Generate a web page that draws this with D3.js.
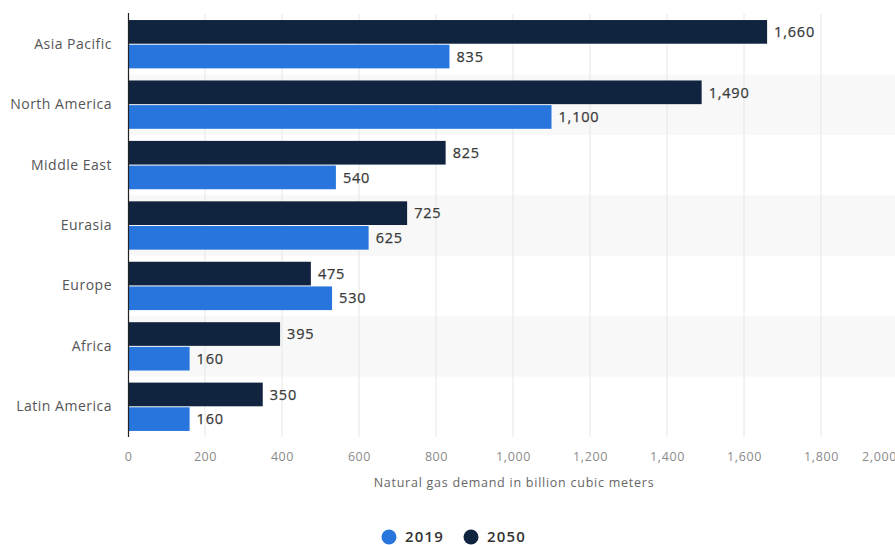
<!DOCTYPE html>
<html>
<head>
<meta charset="utf-8">
<script src="https://cdn.jsdelivr.net/npm/d3@7"></script>
<style>
  html, body { margin: 0; padding: 0; background: #fff; }
  svg { display: block; font-family: "Open Sans", "DejaVu Sans", sans-serif; }
</style>
</head>
<body>
<svg id="chart" width="895" height="545"></svg>
<script>
// Natural gas demand by region, 2019 vs 2050 (billion cubic meters)
const regions = ["Asia Pacific", "North America", "Middle East", "Eurasia", "Europe", "Africa", "Latin America"];
const years = ["2050", "2019"];
const values2050 = [1660, 1490, 825, 725, 475, 395, 350];
const values2019 = [835, 1100, 540, 625, 530, 160, 160];
const xTicks = [0, 200, 400, 600, 800, 1000, 1200, 1400, 1600, 1800, 2000];
const legendYears = ["2019", "2050"];
const colors = { "2019": "#2876dd", "2050": "#10243f" };
const axisTitle = "Natural gas demand in billion cubic meters";

const svg = d3.select("#chart");
const plotLeft = 128, plotRight = 898, plotTop = 14, plotBottom = 437;

const x = d3.scaleLinear().domain([0, 2000]).range([plotLeft, plotRight]);
const y = d3.scaleBand().domain(regions).range([plotTop, plotBottom]).paddingInner(0.2).paddingOuter(0.1);
const ySub = d3.scaleBand().domain(years).range([0, y.bandwidth()]).paddingInner(0.04);

const rows = regions.map((r, i) => ({ region: r, "2050": values2050[i], "2019": values2019[i] }));

// alternating row shading
const step = y.step();
svg.append("g").selectAll("rect")
  .data(regions.filter((d, i) => i % 2 === 1))
  .join("rect")
  .attr("x", plotLeft)
  .attr("y", d => y(d) - step * 0.1)
  .attr("width", 895 - plotLeft)
  .attr("height", step)
  .attr("fill", "#f8f8f8");

// vertical grid lines
svg.append("g").selectAll("line")
  .data(xTicks.filter(t => t > 0))
  .join("line")
  .attr("x1", d => x(d)).attr("x2", d => x(d))
  .attr("y1", plotTop).attr("y2", plotBottom)
  .attr("stroke", "#e6e6e6")
  .attr("stroke-width", 1);

// bars
const groups = svg.append("g").selectAll("g")
  .data(rows)
  .join("g")
  .attr("transform", d => `translate(0,${y(d.region)})`);

groups.selectAll("rect")
  .data(d => years.map(k => ({ key: k, value: d[k] })))
  .join("rect")
  .attr("x", x(0))
  .attr("y", d => ySub(d.key))
  .attr("width", d => x(d.value) - x(0))
  .attr("height", ySub.bandwidth())
  .attr("fill", d => colors[d.key]);

// value labels
const fmt = d3.format(",");
groups.selectAll("text")
  .data(d => years.map(k => ({ key: k, value: d[k] })))
  .join("text")
  .attr("x", d => x(d.value) + 7)
  .attr("y", d => ySub(d.key) + ySub.bandwidth() / 2)
  .attr("dy", "0.36em")
  .attr("font-size", 14.5)
  .attr("font-weight", 400)
  .attr("letter-spacing", 0.8)
  .attr("stroke", "#3a3a3a")
  .attr("stroke-width", 0.25)
  .attr("fill", "#3a3a3a")
  .text(d => fmt(d.value));

// category axis
const yAxis = svg.append("g")
  .attr("transform", `translate(${plotLeft},0)`)
  .call(d3.axisLeft(y).tickSize(0).tickPadding(16));
yAxis.select(".domain").remove();
yAxis.selectAll("text")
  .attr("font-size", 14)
  .attr("font-family", "Open Sans, DejaVu Sans, sans-serif")
  .attr("letter-spacing", 0.5)
  .attr("fill", "#555");

svg.append("line")
  .attr("x1", plotLeft + 0.5).attr("x2", plotLeft + 0.5)
  .attr("y1", plotTop - 1).attr("y2", plotBottom)
  .attr("stroke", "#222").attr("stroke-width", 1.2);

// value axis
const xAxis = svg.append("g")
  .attr("transform", `translate(0,${plotBottom})`)
  .call(d3.axisBottom(x).tickValues(xTicks).tickFormat(fmt).tickSize(0).tickPadding(15));
xAxis.select(".domain").remove();
xAxis.selectAll("text")
  .attr("font-size", 12.5)
  .attr("font-family", "Open Sans, DejaVu Sans, sans-serif")
  .attr("letter-spacing", 0.6)
  .attr("fill", "#8a8a8a")
  .attr("dx", d => d === 2000 ? -19 : 0);

svg.append("text")
  .attr("x", 514)
  .attr("y", 487)
  .attr("text-anchor", "middle")
  .attr("font-size", 12.5)
  .attr("letter-spacing", 0.75)
  .attr("fill", "#666")
  .text(axisTitle);

// legend
const legend = svg.append("g").selectAll("g")
  .data(legendYears)
  .join("g")
  .attr("transform", (d, i) => `translate(${389 + i * 82},537)`);
legend.append("circle").attr("r", 7.5).attr("fill", d => colors[d]);
legend.append("text")
  .attr("x", 16).attr("dy", "0.36em")
  .attr("font-size", 15).attr("font-weight", 600)
  .attr("letter-spacing", 1.2)
  .attr("fill", "#333")
  .text(d => d);
</script>
</body>
</html>
